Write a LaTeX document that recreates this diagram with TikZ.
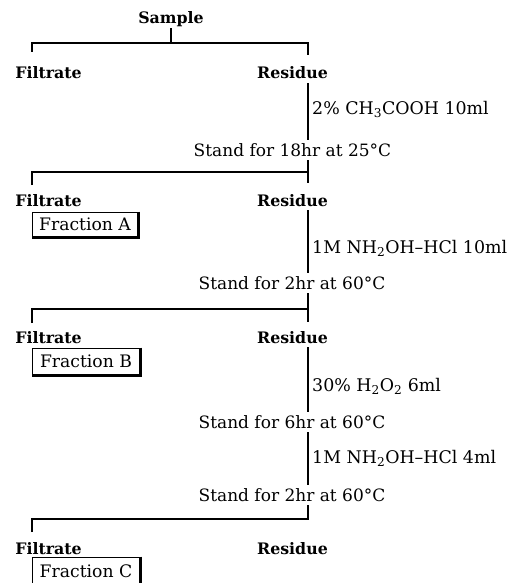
\documentclass[tikz,border=0pt]{standalone}
\usepackage{fontspec}
\setmainfont{DejaVu Serif}
\usetikzlibrary{positioning}
\tikzset{
  head/.style={anchor=base, inner sep=2pt, text height=14pt, text depth=2pt,
               font=\fontsize{15.8}{19}\selectfont\bfseries},
  cond/.style={anchor=base, inner sep=2pt, text height=14pt, text depth=2pt,
               font=\fontsize{17}{20}\selectfont},
  reagent/.style={anchor=base west, inner sep=0pt, font=\fontsize{17.4}{20}\selectfont},
  fracbox/.style={draw, line width=0.8pt, minimum width=106pt, minimum height=25pt,
                  inner sep=0pt, font=\fontsize{17.2}{20}\selectfont},
  boxedge/.style={line width=2.2pt},
  link/.style={line width=1.3pt}
}

\begin{document}
\begin{tikzpicture}[x=1pt, y=-1pt]
  \useasboundingbox (0,0) rectangle (521,583);
  \coordinate (spine) at (308,0);

  % sample and first split
  \node[head] (sample) at (171,24) {Sample};
  \node[head] (filt1) at (48.5,79) {Filtrate};
  \node[head] (res1) at (292.5,79) {Residue};
  \coordinate (bar0) at (171,43);
  \coordinate (b0l) at (32,52);
  \coordinate (b0r) at (308,55);
  \draw[link] (sample.south) -- (bar0);
  \draw[link] (b0l) |- (bar0) -| (b0r);

  % step 1
  \node[reagent] (reag1) at (312,114) {2\% CH\textsubscript{3}COOH 10ml};
  \node[cond] (stand1) at (292.5,156) {Stand for 18hr at 25°C};
  \draw[link] (res1.south -| spine) -- (stand1.north -| spine);
  \node[head] (filt2) at (48.5,206) {Filtrate};
  \node[head] (res2) at (292.5,206) {Residue};
  \node[fracbox] (fa) at (85,224.5) {Fraction A};
  \coordinate (bar1) at (308,172);
  \coordinate (b1l) at (32,185);
  \coordinate (b1r) at (308,183);
  \draw[link] (stand1.south -| spine) -- (b1r);
  \draw[link] (b1l) |- (bar1);

  % step 2
  \node[reagent] (reag2) at (312,253) {1M NH\textsubscript{2}OH--HCl 10ml};
  \node[cond] (stand2) at (292,289) {Stand for 2hr at 60°C};
  \draw[link] (res2.south -| spine) -- (stand2.north -| spine);
  \node[head] (filt3) at (48.5,343) {Filtrate};
  \node[head] (res3) at (292.5,343) {Residue};
  \node[fracbox, minimum height=27pt, minimum width=108pt] (fb) at (86,361.5) {Fraction B};
  \coordinate (bar2) at (308,309);
  \coordinate (b2l) at (32,323);
  \coordinate (b2r) at (308,322);
  \draw[link] (stand2.south -| spine) -- (b2r);
  \draw[link] (b2l) |- (bar2);

  % step 3 and 4
  \node[reagent] (reag3) at (312,391) {30\% H\textsubscript{2}O\textsubscript{2} 6ml};
  \node[cond] (stand3) at (292,428) {Stand for 6hr at 60°C};
  \draw[link] (res3.south -| spine) -- (stand3.north -| spine);
  \node[reagent] (reag4) at (312,463) {1M NH\textsubscript{2}OH--HCl 4ml};
  \node[cond] (stand4) at (292,501) {Stand for 2hr at 60°C};
  \draw[link] (stand3.south -| spine) -- (stand4.north -| spine);
  \node[head] (filt4) at (48.5,554) {Filtrate};
  \node[head] (res4) at (292.5,554) {Residue};
  \node[fracbox, minimum height=29pt, minimum width=108pt] (fc) at (86,571.5) {Fraction C};
  \coordinate (bar3) at (308,519);
  \coordinate (b3l) at (32,532);
  \coordinate (b3r) at (308,520);
  \draw[link] (stand4.south -| spine) -- (b3r);
  \draw[link] (b3l) |- (bar3);

  \foreach \f in {fa,fb,fc}
    \draw[boxedge] (\f.north east) |- (\f.south west);
\end{tikzpicture}
\end{document}
